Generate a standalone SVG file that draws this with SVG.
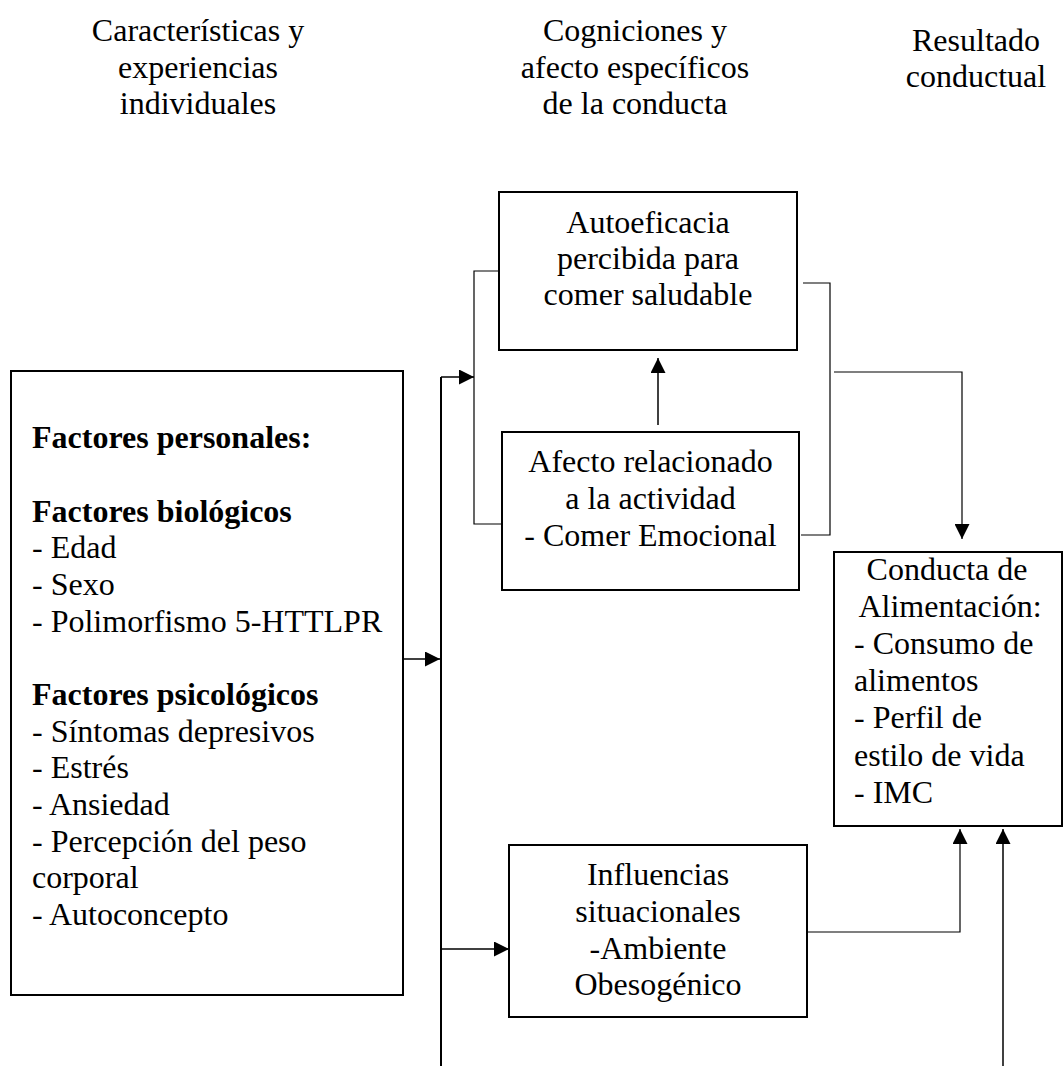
<svg xmlns="http://www.w3.org/2000/svg" width="1063" height="1066" viewBox="0 0 1063 1066">
<style>
text{font-family:"Liberation Serif","Times New Roman",serif;font-size:32px;fill:#000}
.c{text-anchor:middle}
.b{font-weight:bold}
.box{fill:#fff;stroke:#000;stroke-width:2}
.ln{fill:none;stroke:#000;stroke-width:1.5}
.br{fill:none;stroke:#000;stroke-width:1.2}
</style>
<defs>
<marker id="ah" markerUnits="userSpaceOnUse" markerWidth="15" markerHeight="15" refX="15" refY="7.5" orient="auto">
<path d="M0,0 L15,7.5 L0,15 z" fill="#000"/>
</marker>
</defs>
<rect width="1063" height="1066" fill="#fff"/>
<g id="headers">
<text class="c" x="198" y="41">Características y</text>
<text class="c" x="198" y="77.5">experiencias</text>
<text class="c" x="198" y="114">individuales</text>
<text class="c" x="635" y="41">Cogniciones y</text>
<text class="c" x="635" y="77.5">afecto específicos</text>
<text class="c" x="635" y="114">de la conducta</text>
<text class="c" x="976" y="51">Resultado</text>
<text class="c" x="976" y="87">conductual</text>
</g>
<g id="connectors">
<line class="ln" x1="403" y1="659" x2="440" y2="659" marker-end="url(#ah)"/>
<line class="ln" x1="441" y1="377" x2="441" y2="1066" style="stroke-width:2"/>
<line class="ln" x1="441" y1="377" x2="474" y2="377" marker-end="url(#ah)"/>
<polyline class="br" points="499,271 474,271 474,524 502,524"/>
<line class="ln" x1="658" y1="425" x2="658" y2="358" marker-end="url(#ah)"/>
<polyline class="br" points="803,283 830,283 830,535 801,535"/>
<polyline class="br" points="834,372 962,372 962,539" marker-end="url(#ah)"/>
<line class="ln" x1="442" y1="949" x2="509" y2="949" marker-end="url(#ah)"/>
<polyline class="br" points="807,932 960,932 960,829" marker-end="url(#ah)"/>
<line class="ln" x1="1003" y1="1066" x2="1003" y2="829" marker-end="url(#ah)"/>
</g>
<g id="factores">
<rect class="box" x="11" y="371" width="392" height="624"/>
<text class="b" x="32" y="448">Factores personales:</text>
<text class="b" x="32" y="521.5">Factores biológicos</text>
<text x="32" y="558">- Edad</text>
<text x="32" y="595">- Sexo</text>
<text x="32" y="631.5">- Polimorfismo 5-HTTLPR</text>
<text class="b" x="32" y="705">Factores psicológicos</text>
<text x="32" y="741.5">- Síntomas depresivos</text>
<text x="32" y="778">- Estrés</text>
<text x="32" y="815">- Ansiedad</text>
<text x="32" y="851.5">- Percepción del peso</text>
<text x="32" y="888">corporal</text>
<text x="32" y="925">- Autoconcepto</text>
</g>
<g id="autoeficacia">
<rect class="box" x="499" y="192" width="298" height="158"/>
<text class="c" x="648" y="233">Autoeficacia</text>
<text class="c" x="648" y="269">percibida para</text>
<text class="c" x="648" y="305">comer saludable</text>
</g>
<g id="afecto">
<rect class="box" x="502" y="432" width="297" height="158"/>
<text class="c" x="650.5" y="472">Afecto relacionado</text>
<text class="c" x="650.5" y="509">a la actividad</text>
<text class="c" x="650.5" y="546">- Comer Emocional</text>
</g>
<g id="conducta">
<rect class="box" x="834" y="552" width="228" height="274"/>
<text class="c" x="947" y="580">Conducta de</text>
<text class="c" x="950" y="617">Alimentación:</text>
<text x="854" y="654">- Consumo de</text>
<text x="854" y="691">alimentos</text>
<text x="854" y="728">- Perfil de</text>
<text x="854" y="765.5">estilo de vida</text>
<text x="854" y="802.5">- IMC</text>
</g>
<g id="influencias">
<rect class="box" x="509" y="845" width="298" height="172"/>
<text class="c" x="658" y="885">Influencias</text>
<text class="c" x="658" y="922">situacionales</text>
<text class="c" x="658" y="958.5">-Ambiente</text>
<text class="c" x="658" y="995">Obesogénico</text>
</g>
</svg>
